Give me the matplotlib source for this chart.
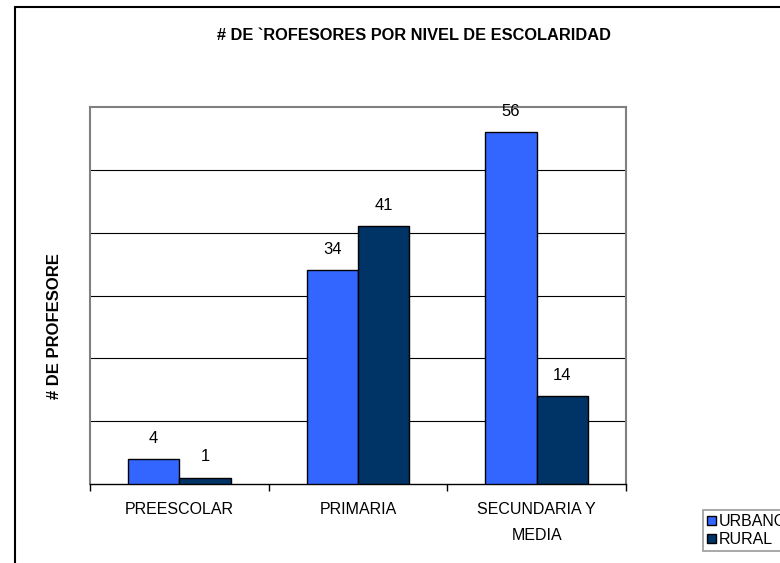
import matplotlib
matplotlib.use("Agg")
import matplotlib.pyplot as plt
from matplotlib.patches import Rectangle
import numpy as np

plt.rcParams['font.family'] = ['Liberation Sans', 'DejaVu Sans']

# data
categories = ["PREESCOLAR", "PRIMARIA", "SECUNDARIA Y\nMEDIA"]
urbano = [4, 34, 56]
rural = [1, 41, 14]
series_names = ["URBANO", "RURAL"]

W, H = 780, 563
fig = plt.figure(figsize=(W / 100, H / 100), dpi=100)

# outer chart border (right/bottom run off the image)
fig.patches.append(Rectangle((15 / W, -0.1), 1.2, 1.1 - 7 / H,
                             transform=fig.transFigure, fill=False,
                             edgecolor="black", linewidth=1.5))

ax = fig.add_axes([90 / W, 1 - 484 / H, (626 - 90) / W, (484 - 107) / H])

x = np.arange(len(categories))
w = 0.288
b1 = ax.bar(x - w / 2, urbano, w, color="#3366FF", edgecolor="black",
            linewidth=1, label=series_names[0], zorder=3)
b2 = ax.bar(x + w / 2, rural, w, color="#003366", edgecolor="black",
            linewidth=1, label=series_names[1], zorder=3)

for bars, vals in ((b1, urbano), (b2, rural)):
    for r, v in zip(bars, vals):
        ax.annotate(str(v), (r.get_x() + r.get_width() / 2, r.get_height()),
                    xytext=(0, 15), textcoords="offset points",
                    ha="center", va="center", fontsize=12, zorder=4)

ax.set_xlim(-0.5, 2.5)
ax.set_ylim(0, 60)
ax.set_yticks(np.arange(10, 60, 10))
ax.yaxis.grid(True, color="black", linewidth=0.8, zorder=0)
ax.tick_params(axis="y", length=0, labelleft=False)

ax.set_xticks(x)
ax.set_xticklabels(categories, fontsize=11.5, linespacing=1.95)
ax.set_xticks([-0.5, 0.5, 1.5, 2.5], minor=True)
ax.tick_params(axis="x", which="major", length=0, pad=13)
ax.tick_params(axis="x", which="minor", length=5, width=1, color="black", direction="out")

for s in ("top", "left", "right"):
    ax.spines[s].set_color("#808080")
    ax.spines[s].set_linewidth(1.5)
ax.spines["bottom"].set_color("black")
ax.spines["bottom"].set_linewidth(1)

ax.set_ylabel("# DE PROFESORE", fontsize=12, fontweight="bold")
ax.yaxis.set_label_coords(-0.052, 0.42)

fig.text(414 / W, 1 - 35 / H, "# DE `ROFESORES POR NIVEL DE ESCOLARIDAD",
         ha="center", va="center", fontsize=11.8, fontweight="bold")

leg = fig.legend(loc="upper left", bbox_to_anchor=(703 / W, 1 - 510 / H),
                 bbox_transform=fig.transFigure, fontsize=11.5, frameon=True,
                 fancybox=False, borderaxespad=0, handlelength=0.55,
                 handleheight=0.55, handletextpad=0.2, labelspacing=0.2,
                 borderpad=0.25)
leg.get_frame().set_edgecolor("#808080")
leg.get_frame().set_linewidth(1.2)

fig.savefig("out.png", dpi=100)
